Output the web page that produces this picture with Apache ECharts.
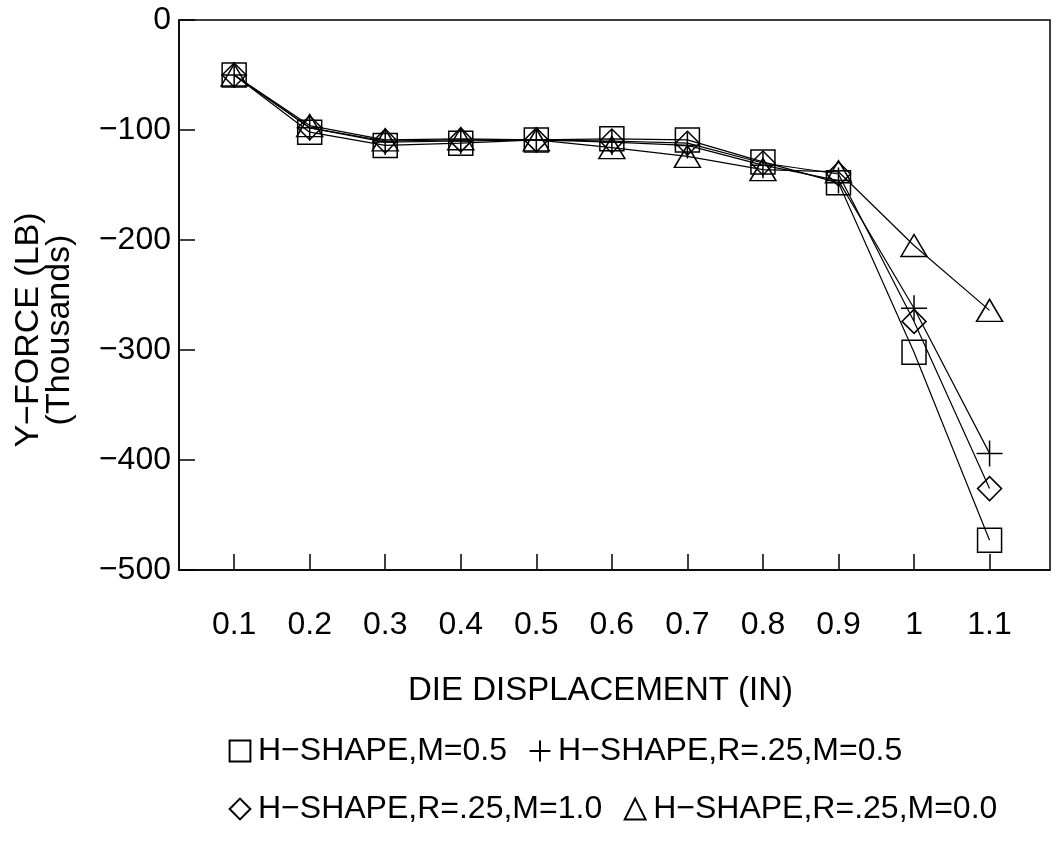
<!DOCTYPE html>
<html>
<head>
<meta charset="utf-8">
<script src="https://cdn.jsdelivr.net/npm/echarts@6/dist/echarts.min.js"></script>
<style>
  html, body { margin: 0; padding: 0; background: #fff; }
  #main { width: 1062px; height: 859px; }
</style>
</head>
<body>
<div id="main"></div>
<script>
// die displacement (in)
var displacement = [0.1, 0.2, 0.3, 0.4, 0.5, 0.6, 0.7, 0.8, 0.9, 1.0, 1.1];
var tickValues = [0.1, 0.2, 0.3, 0.4, 0.5, 0.6, 0.7, 0.8, 0.9, 1.0, 1.1];
// y-force (thousands of lb)
var hShapeM05 = [-50, -102, -114, -112, -109, -108, -109, -129, -148, -302, -473];
var hShapeR25M05 = [-50, -98, -111, -110, -109, -111, -114, -132, -146, -262, -394];
var hShapeR25M10 = [-50, -98, -110, -109, -109, -110, -112, -130, -140, -274, -426];
var hShapeR25M00 = [-50, -96, -109, -108, -109, -116, -124, -136, -138, -205, -264];
var names = ['H\u2212SHAPE,M=0.5', 'H\u2212SHAPE,R=.25,M=0.5', 'H\u2212SHAPE,R=.25,M=1.0', 'H\u2212SHAPE,R=.25,M=0.0'];

var FONT = '"Liberation Sans", Arial, sans-serif';
var plusPath = 'path://M0,10L20,10M10,0L10,20';

function pairs(ys) {
    return displacement.map(function (x, i) { return [x, ys[i]]; });
}

function mkSeries(name, ys, symbol, size) {
    return {
        name: name,
        type: 'line',
        data: pairs(ys),
        symbol: symbol,
        symbolSize: size,
        showAllSymbol: true,
        lineStyle: { color: '#000', width: 1.2 },
        itemStyle: { color: 'none', borderColor: '#000', borderWidth: 1.5 },
        emphasis: { disabled: true },
        z: 2
    };
}

function mkLegend(data, top) {
    return {
        data: data,
        left: 222, top: top,
        itemWidth: 26, itemHeight: 26, itemGap: 20,
        selectedMode: false,
        lineStyle: { width: 0 },
        textStyle: { fontSize: 32, color: '#000', fontFamily: FONT }
    };
}

var chart = echarts.init(document.getElementById('main'));
chart.setOption({
    animation: false,
    backgroundColor: '#fff',
    textStyle: { fontFamily: FONT },
    grid: { left: 179, top: 20, right: 12, bottom: 289, show: true, borderColor: '#000', borderWidth: 1.5, backgroundColor: 'transparent' },
    legend: [
        mkLegend([names[0], names[1]], 730),
        mkLegend([names[2], names[3]], 788)
    ],
    xAxis: {
        type: 'value',
        min: 0.027, max: 1.18,
        name: 'DIE DISPLACEMENT (IN)',
        nameLocation: 'middle',
        nameGap: 104,
        nameTextStyle: { fontSize: 33, color: '#000', fontFamily: FONT, padding: [0, 28, 0, 0] },
        axisLine: { show: true, onZero: false, lineStyle: { color: '#000', width: 1.5 } },
        axisTick: { show: true, inside: true, length: 16, customValues: tickValues, lineStyle: { color: '#000', width: 1.5 } },
        axisLabel: {
            customValues: tickValues,
            margin: 39,
            fontSize: 32, color: '#000', fontFamily: FONT,
            formatter: function (v) { return String(Math.round(v * 10) / 10); }
        },
        splitLine: { show: false }
    },
    yAxis: {
        type: 'value',
        min: -500, max: 0, interval: 100,
        name: 'Y\u2212FORCE (LB)\n(Thousands)',
        nameLocation: 'middle',
        nameGap: 104,
        nameTextStyle: { fontSize: 34, lineHeight: 31, color: '#000', fontFamily: FONT, padding: [0, 70, 0, 0] },
        axisLine: { show: true, onZero: false, lineStyle: { color: '#000', width: 1.5 } },
        axisTick: { show: true, inside: true, length: 16, lineStyle: { color: '#000', width: 1.5 } },
        axisLabel: {
            margin: 8,
            fontSize: 32, color: '#000', fontFamily: FONT,
            formatter: function (v) { return String(v).replace('-', '\u2212'); }
        },
        splitLine: { show: false }
    },
    series: [
        mkSeries(names[0], hShapeM05, 'rect', 24),
        mkSeries(names[1], hShapeR25M05, plusPath, 26),
        mkSeries(names[2], hShapeR25M10, 'diamond', 24),
        mkSeries(names[3], hShapeR25M00, 'triangle', [26, 22])
    ]
});
</script>
</body>
</html>
